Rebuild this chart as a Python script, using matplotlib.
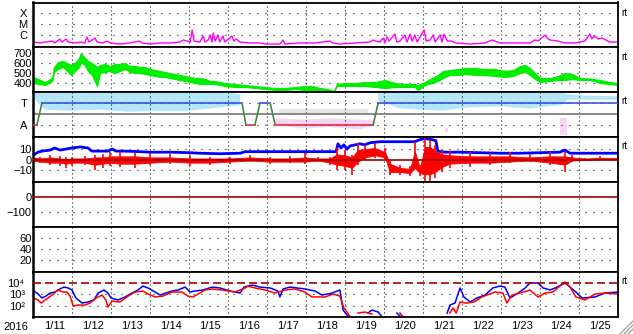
import numpy as np
import matplotlib
matplotlib.use('Agg')
import matplotlib.pyplot as plt
from matplotlib.lines import Line2D
from matplotlib.ticker import NullLocator

plt.rcParams['font.family'] = ['Liberation Sans Narrow', 'Liberation Sans', 'DejaVu Sans']

nan = np.nan

# time axis: days since 2016-01-11 00:00 UT
day_labels = ['1/11', '1/12', '1/13', '1/14', '1/15', '1/16', '1/17', '1/18',
              '1/19', '1/20', '1/21', '1/22', '1/23', '1/24', '1/25']

# X-ray flux (units of 1e-7 W/m2)
xray_t = [0.00, 0.18, 0.31, 0.49, 0.56, 0.69, 0.74, 0.85, 0.90, 1.08, 1.21, 1.33, 1.38, 1.44,
          1.59, 1.64, 1.79, 1.90, 1.97, 2.23, 2.49, 2.74, 2.79, 3.00, 3.26, 3.51, 3.77, 3.85,
          3.95, 4.03, 4.08, 4.13, 4.28, 4.36, 4.41, 4.49, 4.54, 4.59, 4.62, 4.67, 4.74, 4.79,
          4.87, 4.92, 5.10, 5.15, 5.21, 5.31, 5.56, 5.82, 5.97, 6.33, 6.41, 6.46, 6.85, 7.23,
          7.62, 7.67, 7.87, 8.26, 8.64, 8.72, 8.79, 8.90, 8.97, 9.03, 9.08, 9.13, 9.28, 9.33,
          9.41, 9.54, 9.59, 9.67, 9.72, 9.79, 9.85, 10.03, 10.08, 10.18, 10.26, 10.31, 10.44,
          10.49, 10.54, 10.62, 10.74, 10.82, 11.21, 11.59, 11.77, 11.85, 11.97, 12.36, 12.74,
          12.87, 12.95, 13.13, 13.18, 13.26, 13.46, 13.64, 13.90, 14.15, 14.28, 14.33, 14.41,
          14.49, 14.59, 14.69, 14.79, 15.00]
xray_f = [2.3, 1.9, 2.3, 2.8, 1.9, 4.3, 2.3, 4.3, 2.3, 1.9, 2.3, 1.9, 6.6, 2.3,
          5.3, 2.3, 1.9, 2.8, 1.9, 1.5, 1.9, 2.8, 1.9, 1.5, 1.9, 1.9, 2.3, 3.5,
          2.8, 2.3, 28.5, 2.8, 2.3, 8.1, 2.3, 3.5, 10.0, 2.3, 15.2, 2.8, 10.0, 2.3,
          8.1, 2.3, 8.1, 2.8, 4.3, 2.3, 1.9, 1.9, 1.5, 1.5, 3.5, 1.5, 1.9, 1.9,
          2.8, 1.9, 1.5, 1.9, 2.3, 3.5, 2.8, 2.3, 5.3, 2.3, 6.6, 2.8, 12.3, 2.3,
          2.8, 10.0, 2.3, 12.3, 2.8, 10.0, 2.3, 28.5, 2.8, 3.5, 10.0, 2.3, 10.0,
          2.3, 12.3, 2.8, 2.8, 1.9, 1.5, 1.9, 3.5, 2.8, 1.9, 1.9, 1.9,
          3.5, 2.8, 10.0, 5.3, 3.5, 2.8, 1.9, 1.9, 2.8, 12.3, 4.3, 8.1,
          4.3, 5.3, 3.5, 2.3, 2.3]

# solar wind speed envelope (km/s)
sw_t = [0, 0.13, 0.31, 0.44, 0.49, 0.54, 0.64, 0.77, 0.87, 0.97, 1.08, 1.18, 1.23, 1.31, 1.41,
        1.51, 1.64, 1.72, 1.85, 1.97, 2.10, 2.23, 2.36, 2.49, 2.62, 2.74, 2.87, 3.00, 3.13, 3.26,
        3.38, 3.51, 3.64, 3.77, 3.90, 4.03, 4.15, 4.28, 4.41, 4.54, 4.67, 4.79, 4.92, 5.18, 5.44,
        5.69, 5.95, 6.21, 6.46, 6.72, 6.97, 7.15, 7.36, 7.56, 7.72, 7.79, 8.00, 8.26, 8.51, 8.77,
        9.03, 9.28, 9.54, 9.79, 9.87, 10.05, 10.23, 10.38, 10.51, 10.69, 10.90, 11.10, 11.33,
        11.59, 11.85, 12.10, 12.31, 12.49, 12.62, 12.74, 12.87, 13.00, 13.26, 13.46, 13.64,
        13.82, 14.03, 14.28, 14.54, 14.79, 15.00]
sw_lo = [400, 390, 380, 410, 420, 510, 540, 560, 520, 480, 520, 560, 600, 590, 520, 480, 370,
         500, 510, 520, 500, 520, 540, 510, 500, 500, 490, 480, 470, 460, 460, 450, 440, 430,
         420, 410, 400, 390, 390, 390, 390, 380, 370, 360, 360, 350, 340, 330, 330, 340, 330,
         320, 320, 315, 310, 370, 370, 370, 370, 360, 350, 360, 360, 360, 330, 380, 400, 420,
         450, 480, 480, 490, 480, 480, 470, 460, 470, 500, 510, 480, 440, 410, 420, 430, 430,
         440, 430, 430, 400, 390, 380]
sw_hi = [460, 440, 410, 440, 450, 560, 610, 620, 600, 580, 600, 650, 700, 660, 620, 600, 560,
         580, 590, 570, 590, 590, 600, 570, 570, 560, 560, 540, 530, 520, 510, 500, 490, 480,
         470, 460, 450, 450, 440, 420, 420, 410, 400, 390, 380, 370, 360, 350, 350, 360, 370,
         370, 350, 340, 320, 390, 400, 400, 410, 410, 430, 400, 390, 390, 380, 410, 450, 480,
         520, 530, 540, 550, 550, 540, 540, 520, 530, 570, 580, 550, 500, 450, 450, 470, 500,
         490, 450, 445, 430, 410, 400]

# IMF sector (T = +1, A = -1) and angle clouds
sector_t = [0.00, 0.10, 0.23, 5.36, 5.46, 5.69, 5.82, 6.08, 6.21, 8.72, 8.85, 15.00]
sector_v = [-1, -1, 1, 1, -1, -1, 1, 1, -1, -1, 1, 1]
cloud_t = [0.00, 0.18, 0.31, 0.95, 1.72, 2.49, 3.26, 4.03, 4.79, 5.31, 5.36, 8.80, 8.85,
           9.41, 10.44, 11.21, 11.97, 12.74, 13.51, 13.72, 14.03, 15.00]
cloud_lo = [1.5, 0.8, 0.4, 0.3, 0.4, 0.2, 0.3, 0.3, 0.6, 0.8, nan, nan, 1.2,
            0.5, 0.3, 0.6, 0.7, 0.5, 0.8, 1.3, 1.3, 1.3]
cloud_hi = [2.0, 2.0, 2.0, 2.0, 2.0, 2.0, 2.0, 2.0, 2.0, 1.8, nan, nan, 2.0,
            2.0, 2.0, 2.0, 2.0, 2.0, 2.0, 1.8, 1.7, 1.6]
pink_t = [6.21, 6.85, 7.62, 8.38, 8.77, 8.80, 10.50, 10.56, 10.65, 13.45, 13.51, 13.69, 13.75]
pink_lo = [-0.9, -1.3, -1.2, -1.4, -1.0, nan, nan, -1.6, -1.6, nan, -1.9, -1.9, nan]
pink_hi = [-0.4, -0.5, -0.4, -0.5, -0.6, nan, nan, -1.3, -1.3, nan, -0.4, -0.4, nan]
gray_t = [6.30, 8.60]
gray_lo = [0.0, 0.0]
gray_hi = [0.5, 0.5]

# IMF Bt (nT)
bt_t = [0, 0.13, 0.23, 0.44, 0.56, 0.69, 0.85, 1.00, 1.21, 1.41, 1.51, 1.72, 1.92, 2.03, 2.13,
        2.36, 2.74, 3.00, 3.51, 4.03, 4.28, 4.79, 5.31, 5.44, 6.08, 6.85, 7.36, 7.77, 7.82, 7.90,
        7.97, 8.05, 8.13, 8.26, 8.38, 8.51, 8.64, 8.90, 9.28, 9.54, 9.79, 9.92, 10.05, 10.23,
        10.33, 10.38, 10.56, 10.95, 11.46, 11.97, 12.49, 13.00, 13.51, 13.64, 13.77, 14.28, 15.00]
bt_v = [4, 7, 8, 9, 11, 9, 10, 11, 12, 11, 8, 8, 8, 10, 8, 8, 7.5, 7, 7, 6.5, 6, 5.5, 6, 7.5,
        7.5, 7.5, 7.5, 7.5, 15, 11, 14, 10, 13, 14, 15, 14, 16, 17, 17, 17, 17, 19, 20, 19, 18,
        8, 7, 7, 6.5, 6, 6, 6.5, 7, 9, 6, 6, 6]

# IMF Bz (nT): spike extremes and dense core
bz_t = [0, 0.18, 0.44, 0.69, 0.85, 1.00, 1.33, 1.59, 1.79, 1.97, 2.23, 2.62, 3.00, 3.51, 4.03,
        4.54, 5.05, 5.56, 6.08, 6.59, 6.97, 7.31, 7.62, 7.79, 8.00, 8.18, 8.33, 8.51, 8.77, 9.03,
        9.15, 9.41, 9.67, 9.79, 9.92, 10.05, 10.18, 10.31, 10.49, 10.69, 11.21, 11.72, 12.23,
        12.74, 13.26, 13.64, 13.82, 14.15, 14.54, 15.00]
bz_lo = [-2.4, -3.3, -5.2, -6.2, -8.1, -6.2, -5.2, -10, -8.1, -6.2, -7.1, -8.1, -5.2, -4.3,
         -6.2, -5.2, -4.3, -2.4, -4.3, -3.3, -4.3, -2.4, -5.2, -10, -10, -14.8, -5.2, -0.5,
         1.4, -0.5, -14.8, -14.8, -15.7, -5.2, -15.7, -21.4, -21.4, -17.6, -11.9, -8.1, -7.1,
         -5.2, -3.3, -2.4, -5.2, -11.9, -2.4, -1.4, -0.5, -0.5]
bz_hi = [4.3, 2.4, 4.3, 3.3, 2.4, 2.4, 3.3, 4.3, 5.2, 7.1, 7.1, 6.2, 6.2, 5.2, 4.3, 2.4, 2.4,
         4.3, 2.4, 3.3, 6.2, 2.4, 2.4, 11, 9, 4.3, 15.7, 13.8, 15.7, 11, -0.5, -5.2, -6.2, 16.7,
         -5.2, 20.5, 18.6, 13.8, 9, 8.1, 7.1, 6.2, 7.1, 5.2, 7.1, 7.1, 4.3, 1.4, 3.3, 2.4]
bz_core_lo = [-1, -2, -3, -3, -4, -3, -3, -5, -4, -3, -4, -4, -3, -2, -3, -3, -2, -1, -2, -2,
              -2, -1, -3, -5, -6, -8, -2, 2, 4, 2, -12, -12, -13, -8, -13, -14, -14, -12, -7,
              -4, -3, -3, -2, -1, -3, -5, -1, -0.5, 0, 0]
bz_core_hi = [2, 1, 2, 1, 0, 1, 1, 2, 2, 3, 3, 3, 2, 2, 1, 1, 1, 2, 1, 1, 2, 1, 1, 5, 4, 2, 9,
              10, 11, 7, -4, -8, -9, 8, -8, 12, 12, 8, 5, 4, 3, 3, 3, 2, 3, 3, 2, 1, 1.5, 1.5]

# >2 MeV electron flux, log10 (two satellites)
eb_t = [0.00, 0.13, 0.23, 0.33, 0.44, 0.56, 0.69, 0.79, 0.90, 1.00, 1.10, 1.26, 1.41, 1.56, 1.67,
        1.82, 1.92, 2.00, 2.18, 2.36, 2.54, 2.69, 2.82, 2.95, 3.13, 3.26, 3.41, 3.56, 3.72, 3.90,
        4.03, 4.15, 4.36, 4.59, 4.79, 5.05, 5.31, 5.41, 5.62, 5.82, 6.08, 6.28, 6.33, 6.41, 6.59,
        6.97, 7.23, 7.41, 7.67, 7.87, 7.95, 8.05, 8.13, 8.30, 8.59, 8.69, 8.85, 8.95, 9.10, 9.33,
        9.41, 9.60, 10.62, 10.69, 10.82, 10.95, 11.05, 11.21, 11.38, 11.59, 11.79, 11.97, 12.10,
        12.23, 12.44, 12.62, 12.74, 12.95, 13.08, 13.26, 13.44, 13.64, 13.77, 13.92, 14.08,
        14.41, 14.67, 15.00]
eb_log = [3.38, 3.02, 2.67, 2.84, 3.11, 3.20, 3.47, 3.64, 3.56, 3.38, 2.67, 2.22, 2.31, 2.49,
          3.11, 3.38, 3.11, 2.67, 2.49, 2.76, 3.11, 3.38, 3.73, 3.56, 3.20, 2.93, 3.11, 3.29,
          3.38, 3.64, 3.20, 3.29, 3.38, 3.64, 3.56, 3.29, 3.11, 3.64, 3.82, 3.64, 3.56, 3.29,
          2.76, 3.47, 3.64, 3.47, 3.29, 2.93, 3.11, 3.38, 1.60, 1.16, 1.00, nan, 1.33, 1.60,
          1.42, 1.00, nan, 1.33, 1.07, nan, 1.33, 2.04, 2.22, 3.56, 2.76, 2.31, 2.67, 2.93,
          3.56, 3.73, 3.64, 2.67, 3.11, 3.56, 4.00, 4.00, 3.56, 3.38, 3.64, 4.00, 3.64, 3.20,
          2.67, 2.76, 3.11, 3.20]
er_t = [0.00, 0.13, 0.21, 0.31, 0.49, 0.64, 0.77, 0.87, 0.95, 1.03, 1.15, 1.33, 1.46, 1.62,
        1.77, 1.87, 1.92, 2.03, 2.23, 2.44, 2.62, 2.82, 2.95, 3.13, 3.33, 3.56, 3.82, 3.97, 4.10,
        4.28, 4.41, 4.59, 4.85, 5.18, 5.44, 5.51, 5.69, 5.95, 6.21, 6.46, 6.72, 6.97, 7.15, 7.49,
        7.69, 7.87, 7.97, 8.05, 8.13, 8.25, 8.33, 8.51, 8.69, 8.90, 9.41, 9.49, 9.60, 10.69,
        10.77, 10.85, 10.95, 11.10, 11.31, 11.51, 11.85, 12.05, 12.15, 12.28, 12.49, 12.74,
        12.95, 13.13, 13.33, 13.51, 13.64, 13.77, 13.92, 14.15, 14.41, 14.67, 15.00]
er_log = [2.67, 2.49, 2.22, 2.49, 2.93, 3.38, 3.20, 3.20, 2.84, 1.96, 2.04, 2.04, 2.22, 2.67,
          2.93, 2.49, 1.87, 2.40, 2.31, 2.84, 3.20, 3.29, 3.02, 2.76, 2.84, 3.20, 3.20, 2.84,
          2.76, 3.11, 3.38, 3.47, 3.38, 3.20, 3.56, 3.73, 3.56, 3.38, 3.11, 3.38, 3.47, 3.20,
          2.76, 2.76, 3.02, 2.84, 1.78, 1.42, 1.00, nan, 1.33, 1.42, 1.24, nan, 1.33, 1.00, nan,
          1.33, 1.78, 1.33, 2.31, 2.22, 2.31, 2.76, 3.20, 3.11, 2.22, 2.93, 3.11, 3.38, 2.76,
          3.11, 3.20, 3.73, 4.09, 3.64, 2.76, 2.49, 3.02, 3.11, 3.02]

W, H = 633, 334
fig = plt.figure(figsize=(W / 100, H / 100), dpi=100)
fig.patch.set_facecolor('white')

x0, x1 = 33, 618
edges = [2.5, 47, 92, 137, 182, 227, 272, 317]
ndays = len(day_labels)
fs = 8


def px_dash(lw, on, off):
    # dash pattern given in pixels
    return (on * 0.72 / lw, off * 0.72 / lw)


axes = []
for i in range(7):
    top, bot = edges[i], edges[i + 1]
    ax = fig.add_axes([x0 / W, 1 - bot / H, (x1 - x0) / W, (bot - top) / H])
    ax.set_xlim(0, ndays)
    ax.set_xticks([])
    for s in ax.spines.values():
        s.set_linewidth(1.3)
    ax.spines['left'].set_linewidth(1.8)
    ax.tick_params(axis='y', length=0, labelsize=fs, pad=0.8)
    for d in range(1, ndays):
        ax.axvline(d, color='k', lw=0.8, dashes=px_dash(0.8, 1, 3), zorder=1)
    axes.append(ax)

hgrid = dict(color='k', lw=0.8, dashes=px_dash(0.8, 1, 7), zorder=1)

# 1: X-ray
ax = axes[0]
ax.set_yscale('log')
ax.set_ylim(10 ** -7.09, 10 ** -3.05)
ax.plot(xray_t, np.array(xray_f) * 1e-7, color='#ff00ff', lw=1.0, zorder=2)
ax.set_yticks([1e-6, 1e-5, 1e-4])
ax.set_yticklabels(['C', 'M', 'X'])
ax.yaxis.set_minor_locator(NullLocator())
ax.tick_params(axis='y', pad=4)
for v in [1e-6, 1e-5, 1e-4]:
    ax.axhline(v, **hgrid)

# 2: solar wind speed
ax = axes[1]
ax.set_ylim(310, 760)
ax.fill_between(sw_t, sw_lo, sw_hi, color='#00ee00', lw=0.8, edgecolor='#00ee00', zorder=2)
ax.vlines(sw_t, sw_lo, sw_hi, color='#00ee00', lw=1.0, zorder=2)
ax.set_yticks([400, 500, 600, 700])
for v in [400, 500, 600, 700]:
    ax.axhline(v, **hgrid)

# 3: IMF sector
ax = axes[2]
ax.set_ylim(-2.09, 2.0)
ax.fill_between(cloud_t, cloud_lo, cloud_hi, color='#b4e6f8', lw=0, zorder=0.5)
ax.fill_between(pink_t, pink_lo, pink_hi, color='#f8d4f4', lw=0, zorder=0.5)
ax.fill_between(gray_t, gray_lo, gray_hi, color='#e4e4e4', lw=0, zorder=0.5)
ax.axhline(0, color='#808080', lw=1.3, zorder=1.5)
for v in [1, -1]:
    ax.axhline(v, **hgrid)
for k in range(len(sector_t) - 1):
    a, b = sector_v[k], sector_v[k + 1]
    c = ('#3355dd' if a > 0 else '#dd3333') if a == b else '#448844'
    ax.plot(sector_t[k:k + 2], sector_v[k:k + 2], color=c, lw=1.2, zorder=3)
ax.set_yticks([1, -1])
ax.set_yticklabels(['T', 'A'])
ax.tick_params(axis='y', pad=4)

# 4: IMF Bt / Bz
ax = axes[3]
ax.set_ylim(-21.5, 21.5)
for v in [10, -10]:
    ax.axhline(v, **hgrid)
ax.plot(bt_t, bt_v, color='#0000ff', lw=2.0, zorder=2)
ax.vlines(bz_t, bz_lo, bz_hi, color='#ff0000', lw=1.2, zorder=2.4)
ax.fill_between(bz_t, bz_core_lo, bz_core_hi, color='#ff0000', lw=0.6, edgecolor='#ff0000',
                zorder=2.5)
ax.axhline(0, color='#a00000', lw=1.2, zorder=3)
ax.set_yticks([10, 0, -10])

# 5: Dst
ax = axes[4]
ax.set_ylim(-200, 100)
ax.axhline(0, color='#a00000', lw=1.2, zorder=3)
ax.axhline(-100, **hgrid)
ax.set_yticks([0, -100])

# 6: Kp-like index
ax = axes[5]
ax.set_ylim(-2, 80)
for v in [20, 40, 60]:
    ax.axhline(v, **hgrid)
ax.set_yticks([60, 40, 20])

# 7: electron flux
ax = axes[6]
ax.set_yscale('log')
ax.set_ylim(10 ** 0.98, 10 ** 4.98)
for v in [1e2, 1e3]:
    ax.axhline(v, **hgrid)
ax.axhline(1e4, color='#a00000', lw=1.2, dashes=px_dash(1.2, 8, 4), zorder=3)
ax.plot(eb_t, 10 ** np.array(eb_log), color='#0000ff', lw=1.1, zorder=2)
ax.plot(er_t, 10 ** np.array(er_log), color='#ff0000', lw=1.1, zorder=2.2)
ax.set_yticks([1e2, 1e3, 1e4])
ax.set_yticklabels(['10\u00b2', '10\u00b3', '10\u2074'])
ax.yaxis.set_minor_locator(NullLocator())
ax.tick_params(axis='y', pad=6, labelsize=8)
ax.set_xticks(np.arange(ndays) + 0.55)
ax.set_xticklabels(day_labels)
ax.tick_params(axis='x', length=0, labelsize=fs, pad=3)

fig.text(16 / W, 1 - 327 / H, '2016', ha='center', va='center', fontsize=fs)

for yy in [12.5, 57, 101, 146, 281]:
    fig.text(621 / W, 1 - yy / H, 'rt', ha='left', va='center', fontsize=7)

# resize grip in the corner
for k in [5, 9, 13]:
    fig.add_artist(Line2D([(W - k) / W, 1.0], [0.0, k / H], color='#a0a0a0', lw=0.9,
                          transform=fig.transFigure))

fig.savefig('out.png', dpi=100, facecolor='white')
